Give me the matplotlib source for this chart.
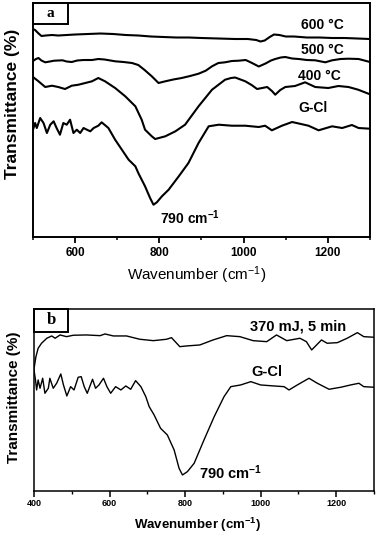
import numpy as np
import matplotlib.pyplot as plt
from matplotlib.patches import Rectangle

plt.rcParams['mathtext.default'] = 'regular'

#%% data (transmittance in arbitrary units)

a600_w = [500, 505, 512, 520, 530, 545, 560, 580, 600, 630, 660, 690, 720, 750, 780, 810, 840, 870, 900, 940,
          980, 1010, 1030, 1040, 1050, 1062, 1072, 1085, 1100, 1120, 1150, 1180, 1210, 1240, 1270, 1300]
a600_T = [208, 207, 204, 201, 201.5, 202, 201.5, 202, 202.5, 203, 203.5, 203, 202, 201.5, 200.5, 200, 199.5, 199.5, 199, 198.5,
          198, 198, 197, 195.5, 196.5, 200, 202.5, 202, 200.5, 200.5, 199.5, 199.5, 199, 199, 198.5, 198]

a500_w = [500, 507, 513, 520, 529, 540, 550, 560, 570, 580, 592, 605, 620, 640, 655, 670, 695, 715, 735, 750,
          765, 782, 798, 814, 833, 853, 873, 893, 910, 925, 940, 956, 972, 988, 1005, 1020, 1036, 1052, 1065, 1075,
          1088, 1099, 1115, 1131, 1150, 1170, 1194, 1210, 1230, 1249, 1273, 1300]
a500_T = [176, 178, 179, 176.5, 174.7, 175.5, 176.3, 176.5, 176.7, 175.5, 175, 176.5, 177, 177, 178, 177.5, 175.7, 175, 174, 172,
          167, 160.7, 154, 155.7, 157.5, 159, 161, 163.3, 166.3, 170.7, 174, 174.7, 176, 176.3, 177, 174, 170.5, 173.5, 176.5, 178,
          179.5, 180, 178.5, 178, 177, 176.7, 174.7, 176.7, 178, 178.3, 178, 175]

a400_w = [500, 513, 529, 545, 560, 576, 592, 608, 624, 640, 655, 671, 695, 719, 743, 758, 766, 782, 790, 814,
          838, 861, 893, 925, 956, 970, 980, 1004, 1019, 1032, 1044, 1056, 1068, 1075, 1087, 1099, 1122, 1146, 1170, 1201,
          1225, 1249, 1272, 1300]
a400_T = [160, 155.7, 150, 151.3, 150, 148, 151.3, 152.3, 154, 155.7, 159, 155.7, 149, 140.7, 130.7, 117.3, 107.3, 100.7, 98, 100.7,
          105.7, 112.3, 130.7, 147.3, 157.3, 159, 159.5, 155.7, 152, 148, 149, 150, 145.7, 142.3, 147, 150, 151, 154.7, 150, 149,
          151, 150, 147.3, 142.7]

agcl_w = [500, 505, 509, 517, 525, 533, 541, 549, 556, 564, 572, 580, 588, 596, 604, 612, 620, 628, 636, 644,
          655, 663, 679, 695, 711, 727, 743, 750, 766, 778, 786, 794, 806, 822, 846, 869, 893, 917, 941, 972,
          1004, 1036, 1051, 1067, 1091, 1115, 1131, 1154, 1178, 1210, 1234, 1257, 1273, 1300]
agcl_T = [107.3, 114, 109, 119, 114, 104, 112.3, 115.7, 109, 102.3, 114, 112.3, 117.3, 104, 107.3, 104, 109, 107.3, 105.7, 109,
          111.3, 114.7, 109, 97.3, 87.3, 77.3, 70.7, 64, 50.7, 39, 32.3, 34.7, 40.7, 47.3, 60.7, 74, 94, 110.7, 112.3, 111.3,
          111.3, 110, 111.3, 106.7, 111.3, 115, 113.5, 111.3, 106.7, 110.7, 109, 112, 109, 108.3]

b370_w = [400, 405, 411, 420, 434, 447, 456, 469, 486, 504, 539, 575, 588, 610, 645, 680, 716, 751, 764, 786,
          804, 839, 874, 910, 945, 980, 1016, 1042, 1069, 1104, 1121, 1135, 1148, 1161, 1176, 1203, 1229, 1256, 1273, 1300]
b370_T = [122, 134, 142.7, 147.7, 152.7, 155, 152.7, 156, 154.3, 155.7, 156, 155.3, 157, 155, 155, 151.7, 150.3, 151.7, 153.3, 144.3,
          145, 146, 151, 155.3, 154.3, 150.3, 149.3, 156, 150.3, 152.7, 149.3, 141, 146, 151, 147.7, 148.3, 152.7, 158.3, 154.3, 153.7]

bgcl_w = [400, 404, 407, 411, 416, 423, 429, 438, 442, 451, 460, 471, 478, 487, 497, 506, 517, 525, 533, 541,
          555, 563, 572, 584, 593, 603, 616, 630, 643, 656, 669, 683, 696, 705, 718, 735, 753, 771, 784, 793,
          806, 824, 850, 877, 903, 921, 947, 974, 1000, 1035, 1062, 1075, 1097, 1128, 1150, 1181, 1212, 1238, 1260, 1273, 1300]
bgcl_T = [121, 111, 101, 111, 102.7, 112.7, 97.7, 102.7, 112.7, 102.7, 107.7, 117, 106, 95, 104.3, 101, 113.7, 114.3, 104.3, 97.7,
          111.7, 102.7, 106, 112.7, 104.3, 97.7, 104.3, 101, 105, 101.7, 110.3, 104.3, 94.3, 84.3, 76, 62.7, 56, 41, 22.7, 16,
          19.3, 27.7, 51, 74.3, 94.3, 104.3, 106, 109.3, 106, 105, 104.3, 101, 106, 112.7, 107.7, 101.7, 103.7, 106, 107.7, 104.3, 103.7]

a_ticks = [600, 800, 1000, 1200]
b_ticks = [400, 600, 800, 1000, 1200]

#%% fonts

plain = ['Liberation Sans', 'DejaVu Sans']
serif = ['Liberation Serif', 'DejaVu Serif']

fig = plt.figure(figsize=(3.78, 5.36), dpi=100)

#%% panel a

ax1 = fig.add_axes([0.0873, 0.5578, 0.8915, 0.4366])
for w, t in [(a600_w, a600_T), (a500_w, a500_T), (a400_w, a400_T), (agcl_w, agcl_T)]:
    ax1.plot(w, t, color='black', linewidth=1.5)
ax1.set_xlim(500, 1300)
ax1.set_ylim(0, 234)
ax1.set_yticks([])
ax1.set_xticks(a_ticks)
ax1.set_xticks(np.arange(500, 1301, 100), minor=True)
ax1.tick_params(axis='x', which='major', direction='out', length=4, width=1.3, pad=3)
ax1.tick_params(axis='x', which='minor', direction='out', length=2.5, width=1.1)
for lab in ax1.get_xticklabels():
    lab.set_family(plain)
    lab.set_fontweight('bold')
    lab.set_fontsize(8.5)
for s in ax1.spines.values():
    s.set_linewidth(1.4)

ax1.text(1188, 212, '600 °C', family=plain, fontweight='bold', fontsize=10, ha='center', va='center')
ax1.text(1188, 187, '500 °C', family=plain, fontweight='bold', fontsize=10, ha='center', va='center')
ax1.text(1181, 161, '400 °C', family=plain, fontweight='bold', fontsize=10, ha='center', va='center')
ax1.text(1165, 129, 'G-Cl', family=plain, fontweight='bold', fontsize=10, ha='center', va='center')
ax1.text(873, 19, '790 cm$^{-1}$', family=plain, fontweight='bold', fontsize=10, ha='center', va='center')

ax1.add_patch(Rectangle((0, 0.91), 0.104, 0.09, transform=ax1.transAxes, fill=False,
                        edgecolor='black', linewidth=1.4, clip_on=False))
ax1.text(0.052, 0.955, 'a', transform=ax1.transAxes, family=serif, fontweight='bold',
         fontsize=11, ha='center', va='center')

fig.text(13 / 378, 1 - 104 / 536, 'Transmittance (%)', rotation=90, family=plain, fontweight='bold',
         fontsize=12.5, ha='center', va='center')
fig.text(197 / 378, 1 - 275 / 536, 'Wavenumber (cm$^{-1}$)', family=plain, fontsize=11,
         ha='center', va='center')

#%% panel b

ax2 = fig.add_axes([0.0899, 0.084, 0.8995, 0.3396])
ax2.plot(b370_w, b370_T, color='black', linewidth=1.0)
ax2.plot(bgcl_w, bgcl_T, color='black', linewidth=1.0)
ax2.set_xlim(400, 1300)
ax2.set_ylim(0, 182)
ax2.set_yticks([])
ax2.set_xticks(b_ticks)
ax2.set_xticks(np.arange(400, 1301, 100), minor=True)
ax2.tick_params(axis='x', which='major', direction='out', length=4, width=1.1, pad=2)
ax2.tick_params(axis='x', which='minor', direction='out', length=2.5, width=1.0)
for lab in ax2.get_xticklabels():
    lab.set_family(plain)
    lab.set_fontweight('bold')
    lab.set_fontsize(6.5)
for s in ax2.spines.values():
    s.set_linewidth(1.1)

ax2.text(1099, 164, '370 mJ, 5 min', family=plain, fontweight='bold', fontsize=10.5, ha='center', va='center')
ax2.text(1017, 119, 'G-Cl', family=plain, fontweight='bold', fontsize=10.5, ha='center', va='center')
ax2.text(921, 18, '790 cm$^{-1}$', family=plain, fontweight='bold', fontsize=10.5, ha='center', va='center')

ax2.add_patch(Rectangle((0, 0.874), 0.1, 0.126, transform=ax2.transAxes, fill=False,
                        edgecolor='black', linewidth=1.4, clip_on=False))
ax2.text(0.05, 0.937, 'b', transform=ax2.transAxes, family=serif, fontweight='bold',
         fontsize=12, ha='center', va='center')

fig.text(14 / 378, 1 - 397 / 536, 'Transmittance (%)', rotation=90, family=plain, fontweight='bold',
         fontsize=11, ha='center', va='center')
fig.text(198 / 378, 1 - 525 / 536, 'Wavenumber (cm$^{-1}$)', family=plain, fontweight='bold', fontsize=9.5,
         ha='center', va='center')

fig.savefig('out.png', dpi=100)
